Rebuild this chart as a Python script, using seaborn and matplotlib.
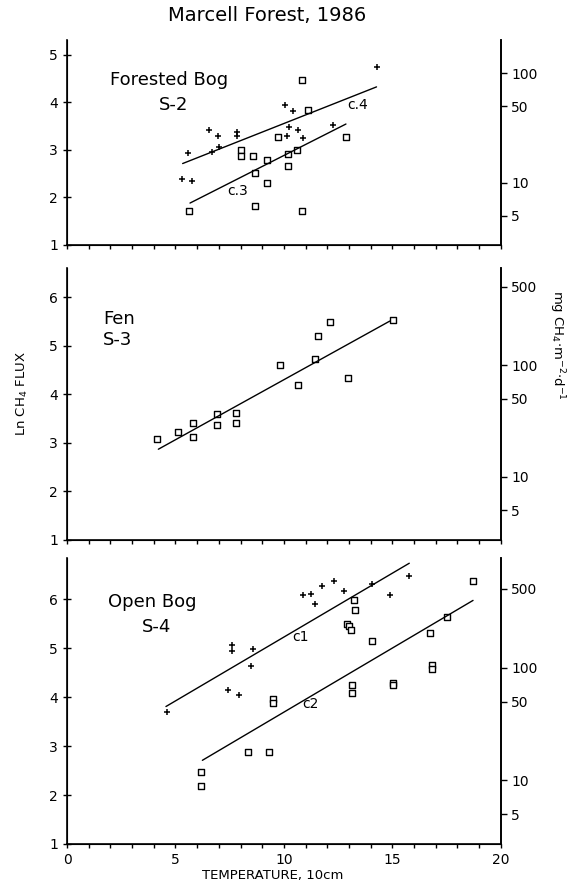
import numpy as np
import pandas as pd
import matplotlib
matplotlib.use('Agg')
import matplotlib.pyplot as plt
import seaborn as sns

sns.set_style('ticks')
plt.rcParams['font.family'] = ['DejaVu Sans']
plt.rcParams.update({'text.color': 'black', 'axes.edgecolor': 'black',
                     'axes.labelcolor': 'black', 'xtick.color': 'black',
                     'ytick.color': 'black'})

# Forested Bog S-2: c.4 (plus) and c.3 (squares)
s2_plus_t = [5.56, 5.28, 5.75, 6.54, 6.94, 6.67, 7.02, 7.82, 7.82, 10.05, 10.4, 10.25,
             10.15, 10.66, 10.86, 12.27, 14.3]
s2_plus_ln = [2.93, 2.38, 2.35, 3.41, 3.29, 2.96, 3.06, 3.37, 3.29, 3.93, 3.82, 3.48,
              3.29, 3.41, 3.24, 3.53, 4.73]
s2_sq_t = [10.83, 11.12, 9.74, 12.86, 8.02, 8.02, 8.59, 9.2, 10.2, 10.59, 8.66, 10.2,
           9.23, 5.62, 8.66, 10.84]
s2_sq_ln = [4.46, 3.84, 3.27, 3.26, 2.99, 2.87, 2.86, 2.79, 2.92, 3.0, 2.51, 2.65,
            2.31, 1.72, 1.81, 1.72]
c4_t, c4_ln = [5.33, 14.27], [2.71, 4.32]
c3_t, c3_ln = [5.67, 12.86], [1.88, 3.54]

# Fen S-3
s3_t = [4.16, 5.13, 5.82, 5.82, 6.9, 6.9, 7.79, 7.79, 9.82, 10.63, 11.43, 11.58,
        12.12, 12.96, 15.04]
s3_ln = [3.08, 3.23, 3.42, 3.13, 3.6, 3.36, 3.62, 3.42, 4.6, 4.2, 4.72, 5.21,
         5.5, 4.34, 5.53]
fen_t, fen_ln = [4.21, 14.88], [2.87, 5.51]

# Open Bog S-4: c1 (plus) and c2 (squares)
s4_plus_t = [4.59, 7.59, 7.59, 8.56, 8.46, 7.4, 7.93, 10.89, 11.23, 11.43, 11.74,
             12.3, 12.76, 14.04, 14.88, 15.78]
s4_plus_ln = [3.69, 5.06, 4.94, 4.98, 4.64, 4.15, 4.05, 6.1, 6.12, 5.9, 6.27,
              6.38, 6.17, 6.31, 6.09, 6.48]
s4_sq_t = [6.18, 6.18, 8.33, 9.31, 9.51, 9.51, 13.16, 13.16, 13.23, 13.27, 12.9, 13.0,
           13.1, 14.07, 15.04, 15.04, 16.73, 16.85, 16.85, 17.54, 18.72]
s4_sq_ln = [2.48, 2.19, 2.88, 2.88, 3.96, 3.88, 4.25, 4.09, 5.99, 5.78, 5.5, 5.45,
            5.38, 5.16, 4.29, 4.24, 5.31, 4.65, 4.58, 5.64, 6.38]
c1_t, c1_ln = [4.56, 15.78], [3.81, 6.74]
c2_t, c2_ln = [6.24, 18.72], [2.71, 5.98]

right_top = [5, 10, 50, 100]
right_other = [5, 10, 50, 100, 500]

fig = plt.figure(figsize=(5.73, 8.94), dpi=100)
ax1 = fig.add_axes([0.117, 0.726, 0.757, 0.229])
ax2 = fig.add_axes([0.117, 0.396, 0.757, 0.304])
ax3 = fig.add_axes([0.117, 0.056, 0.757, 0.320])


def plus(ax, t, v):
    sns.scatterplot(x=t, y=v, ax=ax, marker='+', s=20, color='black', linewidth=1.1)


def squares(ax, t, v):
    sns.scatterplot(x=t, y=v, ax=ax, marker='s', s=14, facecolor='white',
                    edgecolor='black', linewidth=1.0)


def fit(ax, t, v):
    sns.lineplot(x=t, y=v, ax=ax, color='black', linewidth=1.0)


def style(ax, ylim, yticks, rticks, xlabels):
    ax.set_xlim(0, 20)
    ax.set_ylim(*ylim)
    ax.set_yticks(yticks)
    ax.set_xticks([0, 5, 10, 15, 20])
    ax.set_xticks(np.arange(0, 21, 1), minor=True)
    if not xlabels:
        ax.set_xticklabels([])
    ax.tick_params(axis='x', which='both', direction='out', length=3, width=1, labelsize=10)
    ax.tick_params(axis='y', direction='inout', length=6, width=1, labelsize=10)
    ax.spines['top'].set_visible(False)
    for s in ['left', 'bottom', 'right']:
        ax.spines[s].set_linewidth(1.2)
    ax.set_xlabel('')
    ax.set_ylabel('')
    r = ax.twinx()
    r.set_ylim(*ylim)
    r.set_yticks(np.log(rticks))
    r.set_yticklabels([str(v) for v in rticks])
    r.tick_params(axis='y', direction='out', length=4, width=1, labelsize=10)
    r.spines['top'].set_visible(False)
    r.spines['right'].set_linewidth(1.2)


plus(ax1, s2_plus_t, s2_plus_ln)
squares(ax1, s2_sq_t, s2_sq_ln)
fit(ax1, c4_t, c4_ln)
fit(ax1, c3_t, c3_ln)
ax1.text(4.7, 4.47, 'Forested Bog', ha='center', va='center', fontsize=13)
ax1.text(4.9, 3.95, 'S-2', ha='center', va='center', fontsize=13)
ax1.text(12.9, 3.95, 'c.4', ha='left', va='center', fontsize=10)
ax1.text(7.4, 2.14, 'c.3', ha='left', va='center', fontsize=10)
style(ax1, (1, 5.3), [1, 2, 3, 4, 5], right_top, False)

squares(ax2, s3_t, s3_ln)
fit(ax2, fen_t, fen_ln)
ax2.text(1.66, 5.55, 'Fen', ha='left', va='center', fontsize=13)
ax2.text(1.66, 5.12, 'S-3', ha='left', va='center', fontsize=13)
style(ax2, (1, 6.6), [1, 2, 3, 4, 5, 6], right_other, False)

plus(ax3, s4_plus_t, s4_plus_ln)
squares(ax3, s4_sq_t, s4_sq_ln)
fit(ax3, c1_t, c1_ln)
fit(ax3, c2_t, c2_ln)
ax3.text(3.94, 5.94, 'Open Bog', ha='center', va='center', fontsize=13)
ax3.text(4.15, 5.44, 'S-4', ha='center', va='center', fontsize=13)
ax3.text(10.4, 5.24, 'c1', ha='left', va='center', fontsize=10)
ax3.text(10.84, 3.86, 'c2', ha='left', va='center', fontsize=10)
style(ax3, (1, 6.85), [1, 2, 3, 4, 5, 6], right_other, True)

fig.text(0.466, 0.983, 'Marcell Forest, 1986', ha='center', va='center', fontsize=14)
fig.text(0.476, 0.021, 'TEMPERATURE, 10cm', ha='center', va='center', fontsize=9.5)
fig.text(0.04, 0.56, r'Ln CH$_4$ FLUX', ha='center', va='center', rotation=90, fontsize=9.5)
fig.text(0.972, 0.614, r'mg CH$_4$$\cdot$m$^{-2}$$\cdot$d$^{-1}$', ha='center',
         va='center', rotation=270, fontsize=9.5)

fig.savefig('out.png', dpi=100)
